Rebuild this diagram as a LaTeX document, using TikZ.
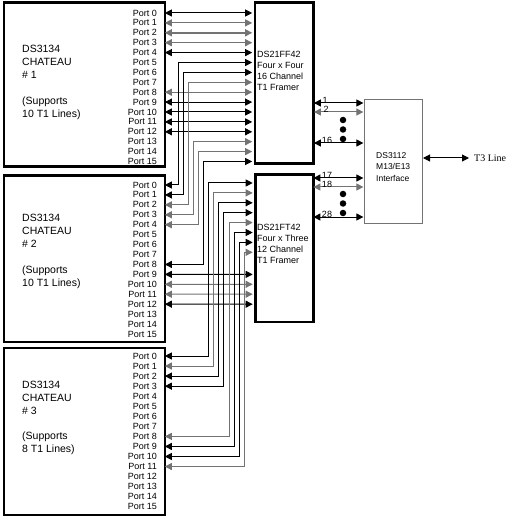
\documentclass[tikz,border=0pt]{standalone}
\usepackage{fontspec}
\setmainfont{Liberation Sans}
\newfontfamily\tlinefont{Liberation Serif}
\usetikzlibrary{arrows.meta,calc}
\definecolor{wgray}{gray}{0.45}
\tikzset{
  chip/.style={draw=black, line width=2.8pt, fill=white, anchor=north west, inner sep=0pt},
  ifbox/.style={draw=wgray, line width=1.2pt, fill=white, anchor=north west, inner sep=0pt},
  portlbl/.style={anchor=east, inner sep=0pt, font=\fontsize{9}{9.5}\selectfont},
  chiptxt/.style={anchor=west, align=left, inner sep=0pt, font=\fontsize{10.5}{12.9}\selectfont},
  frtxt/.style={anchor=west, align=left, inner sep=0pt, font=\fontsize{9}{11}\selectfont},
  numlbl/.style={anchor=south, inner sep=0.3pt, font=\fontsize{9}{9}\selectfont},
  wire/.style={line width=1pt, {Triangle[length=7pt,width=7pt]}-{Triangle[length=7pt,width=7pt]}},
  gwire/.style={wire, draw=wgray},
  bigdot/.style={circle, fill=black, inner sep=0pt, minimum size=6.5pt}
}
\begin{document}
\begin{tikzpicture}[x=1pt,y=-1pt]
\useasboundingbox (0,0) rectangle (525,516);
% chips
\node[chip, minimum width=161pt, minimum height=164pt] (c1) at (2.5,1.5) {};
\node[chip, minimum width=161pt, minimum height=166pt] (c2) at (2.5,174.5) {};
\node[chip, minimum width=161pt, minimum height=167pt] (c3) at (2.5,346.5) {};
\node[chip, minimum width=58.5pt, minimum height=161pt] (f1) at (253.5,1.5) {};
\node[chip, minimum width=58pt, minimum height=147pt] (f2) at (254,173.5) {};
\node[ifbox, minimum width=58pt, minimum height=124pt] (m13) at (364,99) {};
% chip texts
\node[chiptxt] (t1) at (22,82.5) {DS3134\\CHATEAU\\\# 1\\[12.9pt](Supports\\10 T1 Lines)};
\node[chiptxt] (t2) at (22,251.5) {DS3134\\CHATEAU\\\# 2\\[12.9pt](Supports\\10 T1 Lines)};
\node[chiptxt] (t3) at (22,418) {DS3134\\CHATEAU\\\# 3\\[12.9pt](Supports\\8 T1 Lines)};
\node[frtxt] (ft1) at (257,71) {DS21FF42\\Four x Four\\16 Channel\\T1 Framer};
\node[frtxt] (ft2) at (257,243.5) {DS21FT42\\Four x Three\\12 Channel\\T1 Framer};
\node[frtxt, font=\fontsize{8.5}{11.5}\selectfont] (mt) at (376,167) {DS3112\\M13/E13\\Interface};
% ports
\foreach \i in {0,...,15} {
  \pgfmathsetmacro\ya{13+9.9*\i}
  \pgfmathsetmacro\yb{185+9.93*\i}
  \pgfmathsetmacro\yc{356+10.05*\i}
  \node[portlbl] (c1l\i) at (157,\ya) {Port \i};
  \node[portlbl] (c2l\i) at (157,\yb) {Port \i};
  \node[portlbl] (c3l\i) at (157,\yc) {Port \i};
  \coordinate (c1p\i) at (164.8,\ya);
  \coordinate (c2p\i) at (164.8,\yb);
  \coordinate (c3p\i) at (164.8,\yc);
  \coordinate (f1p\i) at (252.2,\ya);
}
\foreach \k in {0,...,7} {
  \pgfmathsetmacro\yf{183+9.9*\k}
  \coordinate (f2p\k) at (252.7,\yf);
}
\coordinate (f2p8) at (252.7,274.4);
\coordinate (f2p9) at (252.7,284.3);
\coordinate (f2p10) at (252.7,294.2);
\coordinate (f2p11) at (252.7,304.2);
% vertical routing tracks
\coordinate (k1) at (178,0);
\coordinate (k2) at (183,0);
\coordinate (k3) at (188,0);
\coordinate (k4) at (193,0);
\coordinate (k5) at (198,0);
\coordinate (k6) at (203,0);
\coordinate (m0) at (208,0);
\coordinate (m1) at (213,0);
\coordinate (m2) at (218,0);
\coordinate (m3) at (223.5,0);
\coordinate (m4) at (229,0);
\coordinate (m5) at (234,0);
\coordinate (m6) at (239,0);
\coordinate (m7) at (244,0);
% chateau 1 straight connections
\draw[wire] (c1p0) -- (f1p0);
\draw[gwire] (c1p1) -- (f1p1);
\draw[gwire, line width=1.5pt] (c1p2) -- (f1p2);
\draw[gwire] (c1p3) -- (f1p3);
\draw[wire] (c1p4) -- (f1p4);
\draw[gwire] (c1p8) -- (f1p8);
\draw[wire] (c1p9) -- (f1p9);
\draw[wire] (c1p10) -- (f1p10);
\draw[wire] (c1p11) -- (f1p11);
\draw[wire] (c1p12) -- (f1p12);
% chateau 2 to framer 1
\draw[wire] (f1p5) -- (f1p5 -| k1) -- (c2p0 -| k1) -- (c2p0);
\draw[wire] (f1p6) -- (f1p6 -| k2) -- (c2p1 -| k2) -- (c2p1);
\draw[gwire] (f1p7) -- (f1p7 -| k3) -- (c2p2 -| k3) -- (c2p2);
\draw[gwire] (f1p13) -- (f1p13 -| k4) -- (c2p3 -| k4) -- (c2p3);
\draw[gwire] (f1p14) -- (f1p14 -| k5) -- (c2p4 -| k5) -- (c2p4);
\draw[wire] (f1p15) -- (f1p15 -| k6) -- (c2p8 -| k6) -- (c2p8);
% chateau 2 to framer 2
\draw[wire] (c2p9) -- (f2p8);
\draw[gwire] (c2p10) -- (f2p9);
\draw[gwire] (c2p11) -- (f2p10);
\draw[wire] (c2p12) -- (f2p11);
% chateau 3 to framer 2
\draw[wire] (f2p0) -- (f2p0 -| m0) -- (c3p0 -| m0) -- (c3p0);
\draw[gwire] (f2p1) -- (f2p1 -| m1) -- (c3p1 -| m1) -- (c3p1);
\draw[wire] (f2p2) -- (f2p2 -| m2) -- (c3p2 -| m2) -- (c3p2);
\draw[wire] (f2p3) -- (f2p3 -| m3) -- (c3p3 -| m3) -- (c3p3);
\draw[gwire] (f2p4) -- (f2p4 -| m4) -- (c3p8 -| m4) -- (c3p8);
\draw[wire] (f2p5) -- (f2p5 -| m5) -- (c3p9 -| m5) -- (c3p9);
\draw[wire] (f2p6) -- (f2p6 -| m6) -- (c3p10 -| m6) -- (c3p10);
\draw[gwire] (f2p7) -- (f2p7 -| m7) -- (c3p11 -| m7) -- (c3p11);
% framer to M13 links
\coordinate (a1) at (313.9,103);
\coordinate (a2) at (313.9,112);
\coordinate (a16) at (313.9,143);
\coordinate (a17) at (313.4,178);
\coordinate (a18) at (313.4,187);
\coordinate (a28) at (313.4,217);
\coordinate (b1) at (363.4,103);
\coordinate (b2) at (363.4,112);
\coordinate (b16) at (363.4,143);
\coordinate (b17) at (363.4,178);
\coordinate (b18) at (363.4,187);
\coordinate (b28) at (363.4,217);
\draw[wire] (a1) -- (b1);
\draw[gwire] (a2) -- (b2);
\draw[wire] (a16) -- (b16);
\draw[wire] (a17) -- (b17);
\draw[gwire] (a18) -- (b18);
\draw[wire] (a28) -- (b28);
\node[numlbl] (n1) at (325,104) {1};
\node[numlbl] (n2) at (326,113) {2};
\node[numlbl] (n16) at (327,144) {16};
\node[numlbl] (n17) at (327,179) {17};
\node[numlbl] (n18) at (327,188) {18};
\node[numlbl] (n28) at (327,218) {28};
\node[bigdot] (d1) at (343,120) {};
\node[bigdot] (d2) at (343,129.5) {};
\node[bigdot] (d3) at (343,139) {};
\node[bigdot] (d4) at (343,194) {};
\node[bigdot] (d5) at (343,203.5) {};
\node[bigdot] (d6) at (343,213) {};
% T3 line
\coordinate (t3a) at (423,158);
\coordinate (t3b) at (469,158);
\draw[wire] (t3a) -- (t3b);
\node[anchor=west, inner sep=0pt, font=\tlinefont\fontsize{10}{12}\selectfont] (t3) at (474,158) {T3 Line};
\end{tikzpicture}
\end{document}
